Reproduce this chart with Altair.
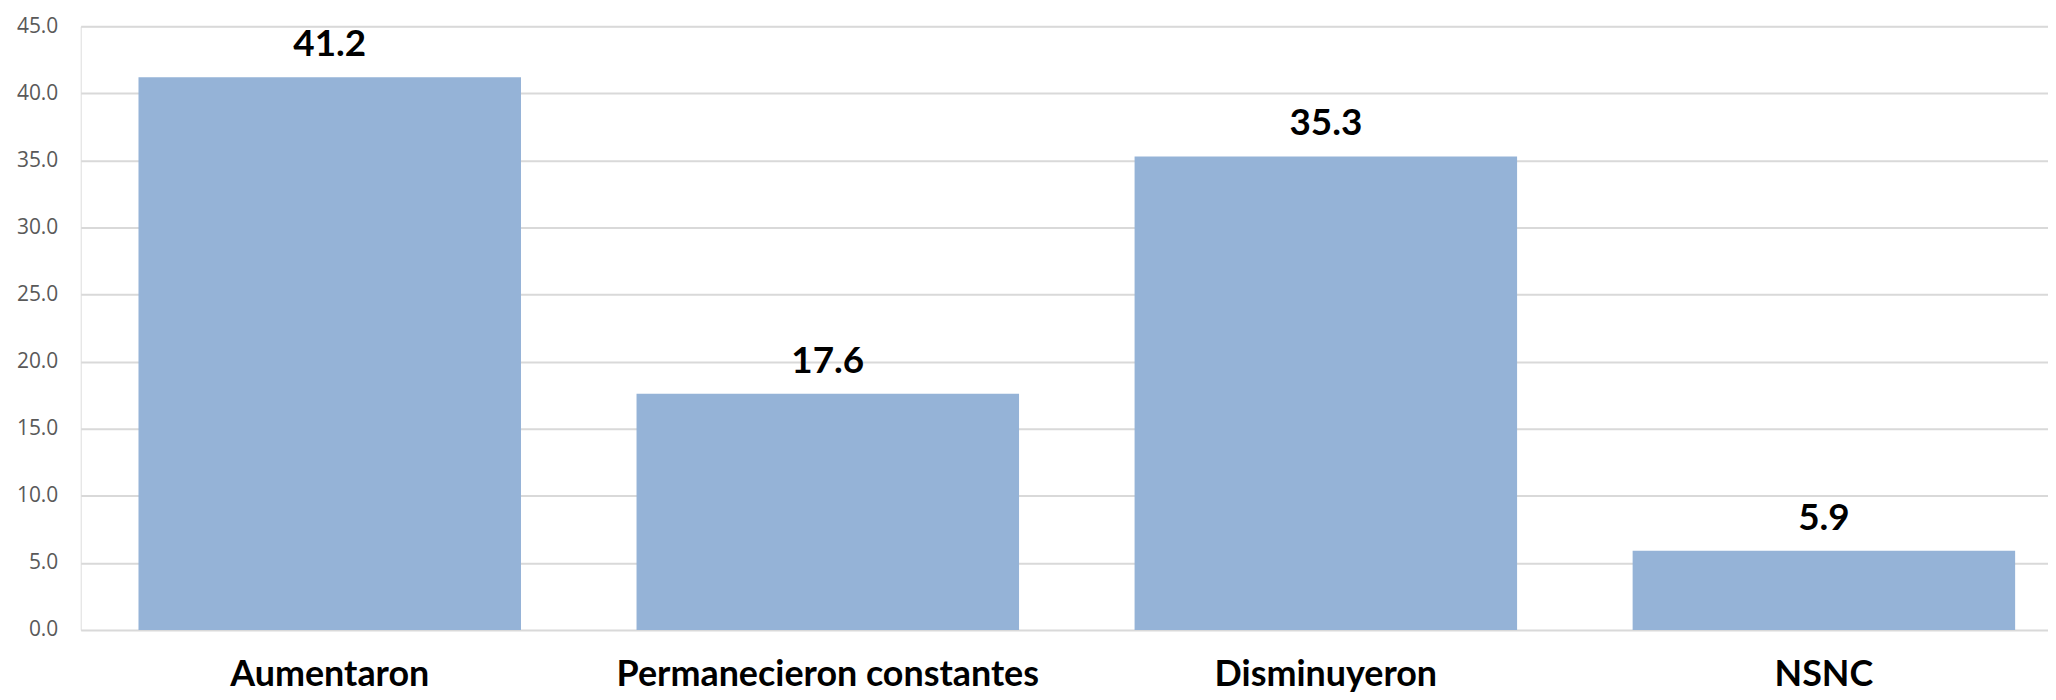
import altair as alt
import pandas as pd

categories = ["Aumentaron", "Permanecieron constantes", "Disminuyeron", "NSNC"]
values = [41.2, 17.6, 35.3, 5.9]
y_ticks = [0, 5, 10, 15, 20, 25, 30, 35, 40, 45]

df = pd.DataFrame({"cat": categories, "val": values})

x_enc = alt.X(
    "cat:N",
    sort=categories,
    title=None,
    scale=alt.Scale(range=[0, 2000], paddingInner=0.232, paddingOuter=0.116),
    axis=alt.Axis(
        labelAngle=0,
        labelFont="Lato",
        labelFontWeight="bold",
        labelFontSize=36,
        labelColor="#000000",
        labelBaseline="alphabetic",
        labelPadding=56,
        ticks=False,
        domain=False,
        grid=False,
        labelLimit=0,
    ),
)

y_enc = alt.Y(
    "val:Q",
    title=None,
    scale=alt.Scale(domain=[0, 45], nice=False),
    axis=alt.Axis(
        values=y_ticks,
        format=".1f",
        labelFont="Open Sans",
        labelFontSize=21,
        labelColor="#595959",
        labelPadding=23,
        ticks=False,
        domain=False,
        grid=True,
        gridColor="#d9d9d9",
        gridWidth=2,
    ),
)

bars = alt.Chart(df).mark_bar(color="#95B3D7").encode(x=x_enc, y=y_enc)

labels = alt.Chart(df).mark_text(
    font="Lato",
    fontWeight="bold",
    fontSize=37,
    color="#000000",
    baseline="alphabetic",
    dy=-21,
).encode(x=alt.X("cat:N", sort=categories), y="val:Q", text=alt.Text("val:Q", format=".1f"))

chart = (
    alt.layer(bars, labels)
    .properties(
        width=1975,
        height=606,
        autosize=alt.AutoSizeParams(type="none"),
        padding={"left": 73, "top": 17, "right": 0, "bottom": 68},
    )
    .configure_view(stroke=None)
    .configure(background="#ffffff")
)

chart.save("out.html", embed_options={"renderer": "svg", "actions": False})
